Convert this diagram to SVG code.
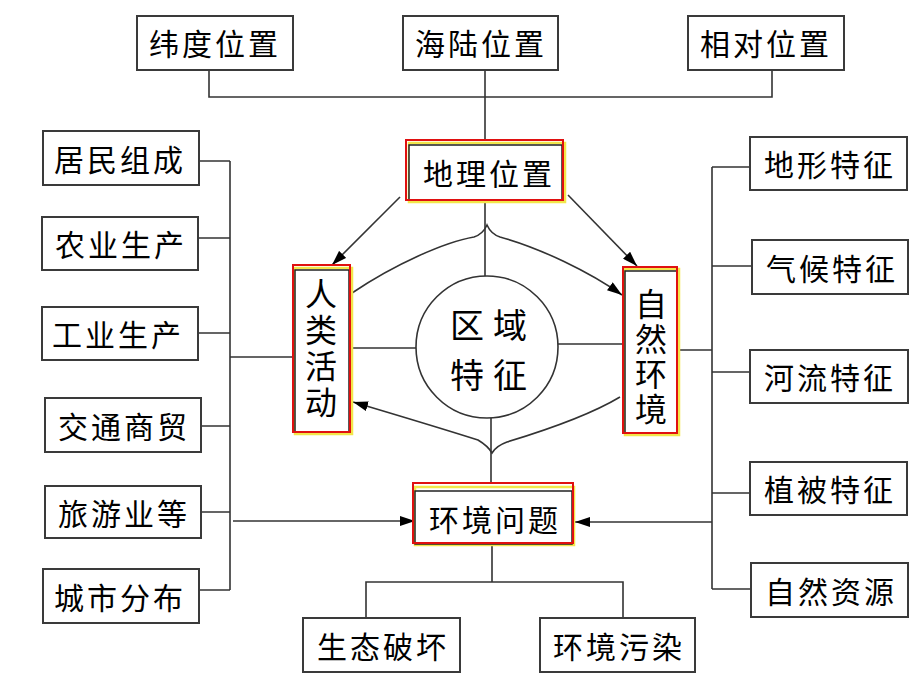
<svg xmlns="http://www.w3.org/2000/svg" width="920" height="690" viewBox="0 0 920 690">
<style>
.box{fill:#fff;stroke:#3a3a3a;stroke-width:2}
.t{font-family:"Noto Sans CJK SC","Noto Sans",sans-serif;font-size:30px;fill:#000;text-anchor:middle;dominant-baseline:central;letter-spacing:3px}
.v{font-family:"Noto Sans CJK SC","Noto Sans",sans-serif;font-size:32px;fill:#000;text-anchor:middle;writing-mode:vertical-rl}
.big{font-family:"Noto Sans CJK SC","Noto Sans",sans-serif;font-size:34px;fill:#000;text-anchor:middle;dominant-baseline:central;letter-spacing:9px}
.ln{fill:none;stroke:#333;stroke-width:1.6}
.yel{fill:none;stroke:#f2e64a;stroke-width:2.5}
.blk{fill:#fff;stroke:#222;stroke-width:1.5}
.red{fill:none;stroke:#e01010;stroke-width:2}
</style>
<defs>
<marker id="ah" viewBox="0 0 12 8" refX="12" refY="4" markerWidth="15" markerHeight="10" markerUnits="userSpaceOnUse" orient="auto">
<path d="M0,0 L12,4 L0,8 z" fill="#000"/>
</marker>
</defs>
<g id="connectors">
<path class="ln" d="M209,70 V97 H772 V70 M485,70 V140"/>
<path class="ln" d="M485,200 V276"/>
<path class="ln" d="M350,348 H416 M558,344 H623"/>
<path class="ln" d="M491,418 V483"/>
<path class="ln" d="M492,543 V582 M366,618 V582 H623 V618"/>
<path class="ln" d="M230,161 V590 M199,161 H230 M198,238 H230 M198,333 H230 M201,426 H230 M201,512 H230 M199,590 H230 M230,357 H293"/>
<path class="ln" d="M712,167 V589 M712,167 H750 M712,266 H752 M712,372 H750 M712,493 H750 M712,589 H751 M677,350 H712"/>
<path class="ln" d="M233,521 H415" marker-end="url(#ah)"/>
<path class="ln" d="M712,522 H575" marker-end="url(#ah)"/>
<path class="ln" d="M400,197 L332,265" marker-end="url(#ah)"/>
<path class="ln" d="M568,195 L637,266" marker-end="url(#ah)"/>
<path class="ln" d="M352,293 C395,264 445,242 474,237 Q483,234 487,225 Q491,234 500,237 C540,248 590,272 622,295" marker-end="url(#ah)"/>
<path class="ln" d="M620,397 C590,415 540,432 507,442 Q496,446 492,453 Q488,446 478,440 C440,428 390,413 353,402" marker-end="url(#ah)"/>
</g>
<g id="n-weidu"><rect class="box" x="137" y="16" width="156" height="54"/><text class="t" x="215" y="42">纬度位置</text></g>
<g id="n-hailu"><rect class="box" x="403" y="16" width="155" height="54"/><text class="t" x="481" y="42">海陆位置</text></g>
<g id="n-xiangdui"><rect class="box" x="688" y="16" width="156" height="54"/><text class="t" x="766" y="42">相对位置</text></g>
<g id="n-dili">
<rect class="yel" x="409" y="143" width="156" height="59"/>
<rect class="blk" x="409" y="145" width="153" height="55"/>
<rect class="red" x="406" y="140" width="157" height="60"/>
<text class="t" x="489" y="172">地理位置</text></g>
<g id="n-renlei">
<rect class="yel" x="295" y="268" width="57" height="166"/>
<rect class="blk" x="295" y="270" width="54" height="162"/>
<rect class="red" x="293" y="265" width="57" height="167"/>
<text class="v" x="321" y="350" letter-spacing="4">人类活动</text></g>
<g id="n-ziran">
<rect class="yel" x="625" y="269" width="54" height="166"/>
<rect class="blk" x="625" y="271" width="52" height="162"/>
<rect class="red" x="623" y="267" width="54" height="166"/>
<text class="v" x="651" y="358" letter-spacing="3">自然环境</text></g>
<g id="n-quyu"><circle cx="487" cy="347" r="71" fill="#fff" stroke="#333" stroke-width="1.6"/>
<text class="big" x="493" y="323">区域</text><text class="big" x="493" y="373">特征</text></g>
<g id="n-huanjing">
<rect class="yel" x="415" y="487" width="159" height="58"/>
<rect class="blk" x="415" y="491" width="157" height="53"/>
<rect class="red" x="413" y="483" width="160" height="60"/>
<text class="t" x="495" y="518">环境问题</text></g>
<g id="n-shengtai"><rect class="box" x="303" y="618" width="157" height="54"/><text class="t" x="383" y="645">生态破坏</text></g>
<g id="n-wuran"><rect class="box" x="540" y="618" width="155" height="54"/><text class="t" x="619" y="645">环境污染</text></g>
<g id="n-jumin"><rect class="box" x="43" y="131" width="156" height="54"/><text class="t" x="120" y="158">居民组成</text></g>
<g id="n-nongye"><rect class="box" x="42" y="217" width="156" height="53"/><text class="t" x="121" y="243">农业生产</text></g>
<g id="n-gongye"><rect class="box" x="42" y="307" width="156" height="53"/><text class="t" x="118" y="333">工业生产</text></g>
<g id="n-jiaotong"><rect class="box" x="45" y="398" width="156" height="54"/><text class="t" x="124" y="425">交通商贸</text></g>
<g id="n-lvyou"><rect class="box" x="45" y="486" width="156" height="52"/><text class="t" x="124" y="512">旅游业等</text></g>
<g id="n-chengshi"><rect class="box" x="43" y="569" width="156" height="54"/><text class="t" x="120" y="596">城市分布</text></g>
<g id="n-dixing"><rect class="box" x="750" y="137" width="157" height="53"/><text class="t" x="830" y="163">地形特征</text></g>
<g id="n-qihou"><rect class="box" x="752" y="240" width="156" height="54"/><text class="t" x="832" y="267">气候特征</text></g>
<g id="n-heliu"><rect class="box" x="750" y="350" width="158" height="53"/><text class="t" x="830" y="376">河流特征</text></g>
<g id="n-zhibei"><rect class="box" x="750" y="462" width="157" height="53"/><text class="t" x="830" y="488">植被特征</text></g>
<g id="n-ziyuan"><rect class="box" x="751" y="563" width="157" height="54"/><text class="t" x="831" y="590">自然资源</text></g>
</svg>
